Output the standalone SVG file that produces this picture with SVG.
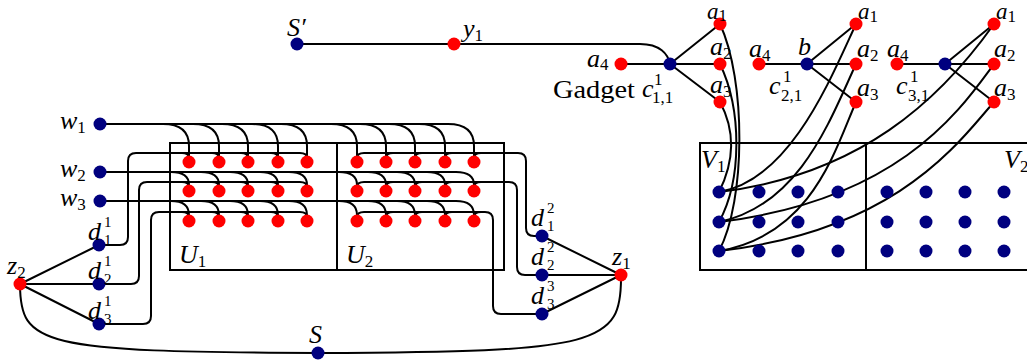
<svg xmlns="http://www.w3.org/2000/svg" width="1027" height="363" viewBox="0 0 1027 363">
<style>
.e{fill:none;stroke:#000;stroke-width:2;stroke-linecap:round;stroke-linejoin:round}
.bx{fill:none;stroke:#000;stroke-width:2}
.r{fill:#ff0000}
.b{fill:#00007f}
text{font-family:"Liberation Serif","Times New Roman",serif;fill:#000}
.m{font-style:italic;font-size:26px}
.s{font-style:normal;font-size:17px}
.t{font-style:normal;font-size:15px}
.g{font-size:25px}
.top{font-size:23px}
</style>
<defs>
<circle id="R" r="6.5" class="r"/>
<circle id="B" r="6.5" class="b"/>
</defs>

<g id="boxes">
<rect x="170" y="143" width="334" height="127" class="bx"/>
<line x1="337" y1="143" x2="337" y2="270" class="bx"/>
<rect x="700" y="143" width="340" height="127" class="bx"/>
<line x1="866" y1="143" x2="866" y2="270" class="bx"/>
</g>

<g id="connectors">
<path class="e" d="M297,44 H640 C660,44 668,54 670,64"/>
<path class="e" d="M621,64 H720 M670,64 L720,24 M670,64 L720,102"/>
<path class="e" d="M759,64 H856 M807,64 L856,24 M807,64 L856,102"/>
<path class="e" d="M897,64 H994 M945,64 L994,24 M945,64 L994,102"/>
<path class="e" d="M720,24 C746,80 746,200 719,251"/>
<path class="e" d="M720,64 C742,110 742,180 719,222"/>
<path class="e" d="M720,102 C735,130 735,160 719,192"/>
<path class="e" d="M856,24 C830,80 790,180 719,192"/>
<path class="e" d="M856,64 C830,120 800,205 719,222"/>
<path class="e" d="M856,102 C835,150 812,235 719,251"/>
<path class="e" d="M994,24 C940,100 860,175 719,192"/>
<path class="e" d="M994,64 C960,110 900,200 719,222"/>
<path class="e" d="M994,102 C960,140 900,230 719,251"/>
<path class="e" d="M20,284 L99,245 M20,284 H99 M20,284 L99,324"/>
<path class="e" d="M621,275 L542,236 M621,275 H542 M621,275 L542,314"/>
<path class="e" d="M20,284 C20,345 40,352 318,353 C600,352 622,345 621,275"/>
<path class="e" d="M100,124 H448 M100,172 H456 M100,201 H456"/>
<path class="e" d="M163,124 C181,124 189,132 189,146 V156 M193,124 C211,124 219,132 219,146 V156 M222,124 C240,124 248,132 248,146 V156 M252,124 C270,124 278,132 278,146 V156 M281,124 C299,124 307,132 307,146 V156 M331,124 C349,124 357,132 357,146 V156 M360,124 C378,124 386,132 386,146 V156 M389,124 C407,124 415,132 415,146 V156 M419,124 C437,124 445,132 445,146 V156 M448,124 C466,124 474,132 474,146 V156"/>
<path class="e" d="M171,172 C183,172 189,176 189,185 M201,172 C213,172 219,176 219,185 M230,172 C242,172 248,176 248,185 M260,172 C272,172 278,176 278,185 M289,172 C301,172 307,176 307,185 M339,172 C351,172 357,176 357,185 M368,172 C380,172 386,176 386,185 M397,172 C409,172 415,176 415,185 M427,172 C439,172 445,176 445,185 M456,172 C468,172 474,176 474,185"/>
<path class="e" d="M171,201 C183,201 189,205 189,215 M201,201 C213,201 219,205 219,215 M230,201 C242,201 248,205 248,215 M260,201 C272,201 278,205 278,215 M289,201 C301,201 307,205 307,215 M339,201 C351,201 357,205 357,215 M368,201 C380,201 386,205 386,215 M397,201 C409,201 415,205 415,215 M427,201 C439,201 445,205 445,215 M456,201 C468,201 474,205 474,215"/>
<path class="e" d="M99,245 H120 Q128,245 128,237 V161 Q128,153 136,153 H300 Q307,153 307,158"/>
<path class="e" d="M99,284 H131 Q139,284 139,276 V190 Q139,182 147,182 H300 Q307,182 307,187"/>
<path class="e" d="M99,324 H143 Q151,324 151,316 V220 Q151,212 159,212 H300 Q307,212 307,217"/>
<path class="e" d="M182,153 Q189,153 189,158 M212,153 Q219,153 219,158 M241,153 Q248,153 248,158 M271,153 Q278,153 278,158 M182,182 Q189,182 189,187 M212,182 Q219,182 219,187 M241,182 Q248,182 248,187 M271,182 Q278,182 278,187 M182,212 Q189,212 189,217 M212,212 Q219,212 219,217 M241,212 Q248,212 248,217 M271,212 Q278,212 278,217"/>
<path class="e" d="M542,236 H534 Q526,236 526,228 V161 Q526,153 518,153 H364 Q357,153 357,158"/>
<path class="e" d="M542,275 H525 Q517,275 517,267 V190 Q517,182 509,182 H364 Q357,182 357,187"/>
<path class="e" d="M542,314 H501 Q493,314 493,306 V220 Q493,212 485,212 H364 Q357,212 357,217"/>
<path class="e" d="M393,153 Q386,153 386,158 M422,153 Q415,153 415,158 M452,153 Q445,153 445,158 M481,153 Q474,153 474,158 M393,182 Q386,182 386,187 M422,182 Q415,182 415,187 M452,182 Q445,182 445,187 M481,182 Q474,182 474,187 M393,212 Q386,212 386,217 M422,212 Q415,212 415,217 M452,212 Q445,212 445,217 M481,212 Q474,212 474,217"/>
</g>

<g id="U1">
<use href="#R" x="189" y="162"/><use href="#R" x="219" y="162"/><use href="#R" x="248" y="162"/><use href="#R" x="278" y="162"/><use href="#R" x="307" y="162"/>
<use href="#R" x="189" y="191"/><use href="#R" x="219" y="191"/><use href="#R" x="248" y="191"/><use href="#R" x="278" y="191"/><use href="#R" x="307" y="191"/>
<use href="#R" x="189" y="221"/><use href="#R" x="219" y="221"/><use href="#R" x="248" y="221"/><use href="#R" x="278" y="221"/><use href="#R" x="307" y="221"/>
<text x="179" y="263" class="m">U<tspan class="s" dy="4">1</tspan></text>
</g>
<g id="U2">
<use href="#R" x="357" y="162"/><use href="#R" x="386" y="162"/><use href="#R" x="415" y="162"/><use href="#R" x="445" y="162"/><use href="#R" x="474" y="162"/>
<use href="#R" x="357" y="191"/><use href="#R" x="386" y="191"/><use href="#R" x="415" y="191"/><use href="#R" x="445" y="191"/><use href="#R" x="474" y="191"/>
<use href="#R" x="357" y="221"/><use href="#R" x="386" y="221"/><use href="#R" x="415" y="221"/><use href="#R" x="445" y="221"/><use href="#R" x="474" y="221"/>
<text x="346" y="263" class="m">U<tspan class="s" dy="4">2</tspan></text>
</g>
<g id="V1">
<use href="#B" x="719" y="192"/><use href="#B" x="759" y="192"/><use href="#B" x="798" y="192"/><use href="#B" x="838" y="192"/>
<use href="#B" x="719" y="222"/><use href="#B" x="759" y="222"/><use href="#B" x="798" y="222"/><use href="#B" x="838" y="222"/>
<use href="#B" x="719" y="251"/><use href="#B" x="759" y="251"/><use href="#B" x="798" y="251"/><use href="#B" x="838" y="251"/>
<text x="701" y="168" class="m">V<tspan class="s" dy="4">1</tspan></text>
</g>
<g id="V2">
<use href="#B" x="887" y="192"/><use href="#B" x="926" y="192"/><use href="#B" x="965" y="192"/><use href="#B" x="1004" y="192"/>
<use href="#B" x="887" y="222"/><use href="#B" x="926" y="222"/><use href="#B" x="965" y="222"/><use href="#B" x="1004" y="222"/>
<use href="#B" x="887" y="251"/><use href="#B" x="926" y="251"/><use href="#B" x="965" y="251"/><use href="#B" x="1004" y="251"/>
<text x="1004" y="168" class="m">V<tspan class="s" dy="4">2</tspan></text>
</g>

<g id="w1"><use href="#B" x="100" y="124"/><text x="60" y="129" class="m">w<tspan class="s" dy="4">1</tspan></text></g>
<g id="w2"><use href="#B" x="100" y="172"/><text x="60" y="177" class="m">w<tspan class="s" dy="4">2</tspan></text></g>
<g id="w3"><use href="#B" x="100" y="201"/><text x="60" y="206" class="m">w<tspan class="s" dy="4">3</tspan></text></g>

<g id="d11"><use href="#B" x="99" y="245"/><text x="88" y="240" class="m">d</text><text x="104" y="227" class="t">1</text><text x="104" y="245" class="t">1</text></g>
<g id="d21"><use href="#B" x="99" y="284"/><text x="88" y="279" class="m">d</text><text x="104" y="266" class="t">1</text><text x="104" y="284" class="t">2</text></g>
<g id="d31"><use href="#B" x="99" y="324"/><text x="88" y="319" class="m">d</text><text x="104" y="306" class="t">1</text><text x="104" y="324" class="t">3</text></g>

<g id="d12"><use href="#B" x="542" y="236"/><text x="531" y="226" class="m">d</text><text x="547" y="213" class="t">2</text><text x="547" y="231" class="t">1</text></g>
<g id="d22"><use href="#B" x="542" y="275"/><text x="531" y="265" class="m">d</text><text x="547" y="252" class="t">2</text><text x="547" y="270" class="t">2</text></g>
<g id="d33"><use href="#B" x="542" y="314"/><text x="531" y="304" class="m">d</text><text x="547" y="291" class="t">3</text><text x="547" y="309" class="t">3</text></g>

<g id="z2"><use href="#R" x="20" y="284"/><text x="7" y="274" class="m">z<tspan class="s" dy="4">2</tspan></text></g>
<g id="z1"><use href="#R" x="621" y="275"/><text x="612" y="265" class="m">z<tspan class="s" dy="4">1</tspan></text></g>
<g id="S"><use href="#B" x="318" y="353"/><text x="309" y="343" class="m">S</text></g>
<g id="Sp"><use href="#B" x="297" y="44"/><text x="287" y="36" class="m">S′</text></g>
<g id="y1"><use href="#R" x="454" y="44"/><text x="463" y="37" class="m">y<tspan class="s" dy="4">1</tspan></text></g>

<g id="gadget1">
<use href="#R" x="621" y="64"/><text x="587" y="67" class="m">a<tspan class="s" dy="3">4</tspan></text>
<use href="#B" x="670" y="64"/>
<text x="553" y="98" class="g" textLength="82" lengthAdjust="spacingAndGlyphs">Gadget</text>
<text x="642" y="97" class="m">c</text><text x="654" y="85" class="s">1</text><text x="652" y="103" class="s">1,1</text>
<use href="#R" x="720" y="24"/><text x="707" y="19" class="m top">a<tspan class="s" dy="2">1</tspan></text>
<use href="#R" x="720" y="64"/><text x="710" y="55" class="m">a<tspan class="s" dy="4">2</tspan></text>
<use href="#R" x="720" y="102"/><text x="710" y="93" class="m">a<tspan class="s" dy="4">3</tspan></text>
</g>
<g id="gadget2">
<use href="#R" x="759" y="64"/><text x="749" y="57" class="m">a<tspan class="s" dy="4">4</tspan></text>
<use href="#B" x="807" y="64"/><text x="798" y="55" class="m">b</text>
<text x="769" y="94" class="m">c</text><text x="783" y="82" class="s">1</text><text x="781" y="101" class="s">2,1</text>
<use href="#R" x="856" y="24"/><text x="858" y="19" class="m top">a<tspan class="s" dy="3">1</tspan></text>
<use href="#R" x="856" y="64"/><text x="857" y="57" class="m">a<tspan class="s" dy="4">2</tspan></text>
<use href="#R" x="856" y="102"/><text x="857" y="96" class="m">a<tspan class="s" dy="4">3</tspan></text>
</g>
<g id="gadget3">
<use href="#R" x="897" y="64"/><text x="887" y="57" class="m">a<tspan class="s" dy="4">4</tspan></text>
<use href="#B" x="945" y="64"/>
<text x="896" y="94" class="m">c</text><text x="910" y="82" class="s">1</text><text x="908" y="101" class="s">3,1</text>
<use href="#R" x="994" y="24"/><text x="996" y="19" class="m top">a<tspan class="s" dy="3">1</tspan></text>
<use href="#R" x="994" y="64"/><text x="994" y="57" class="m">a<tspan class="s" dy="4">2</tspan></text>
<use href="#R" x="994" y="102"/><text x="994" y="96" class="m">a<tspan class="s" dy="4">3</tspan></text>
</g>
</svg>
